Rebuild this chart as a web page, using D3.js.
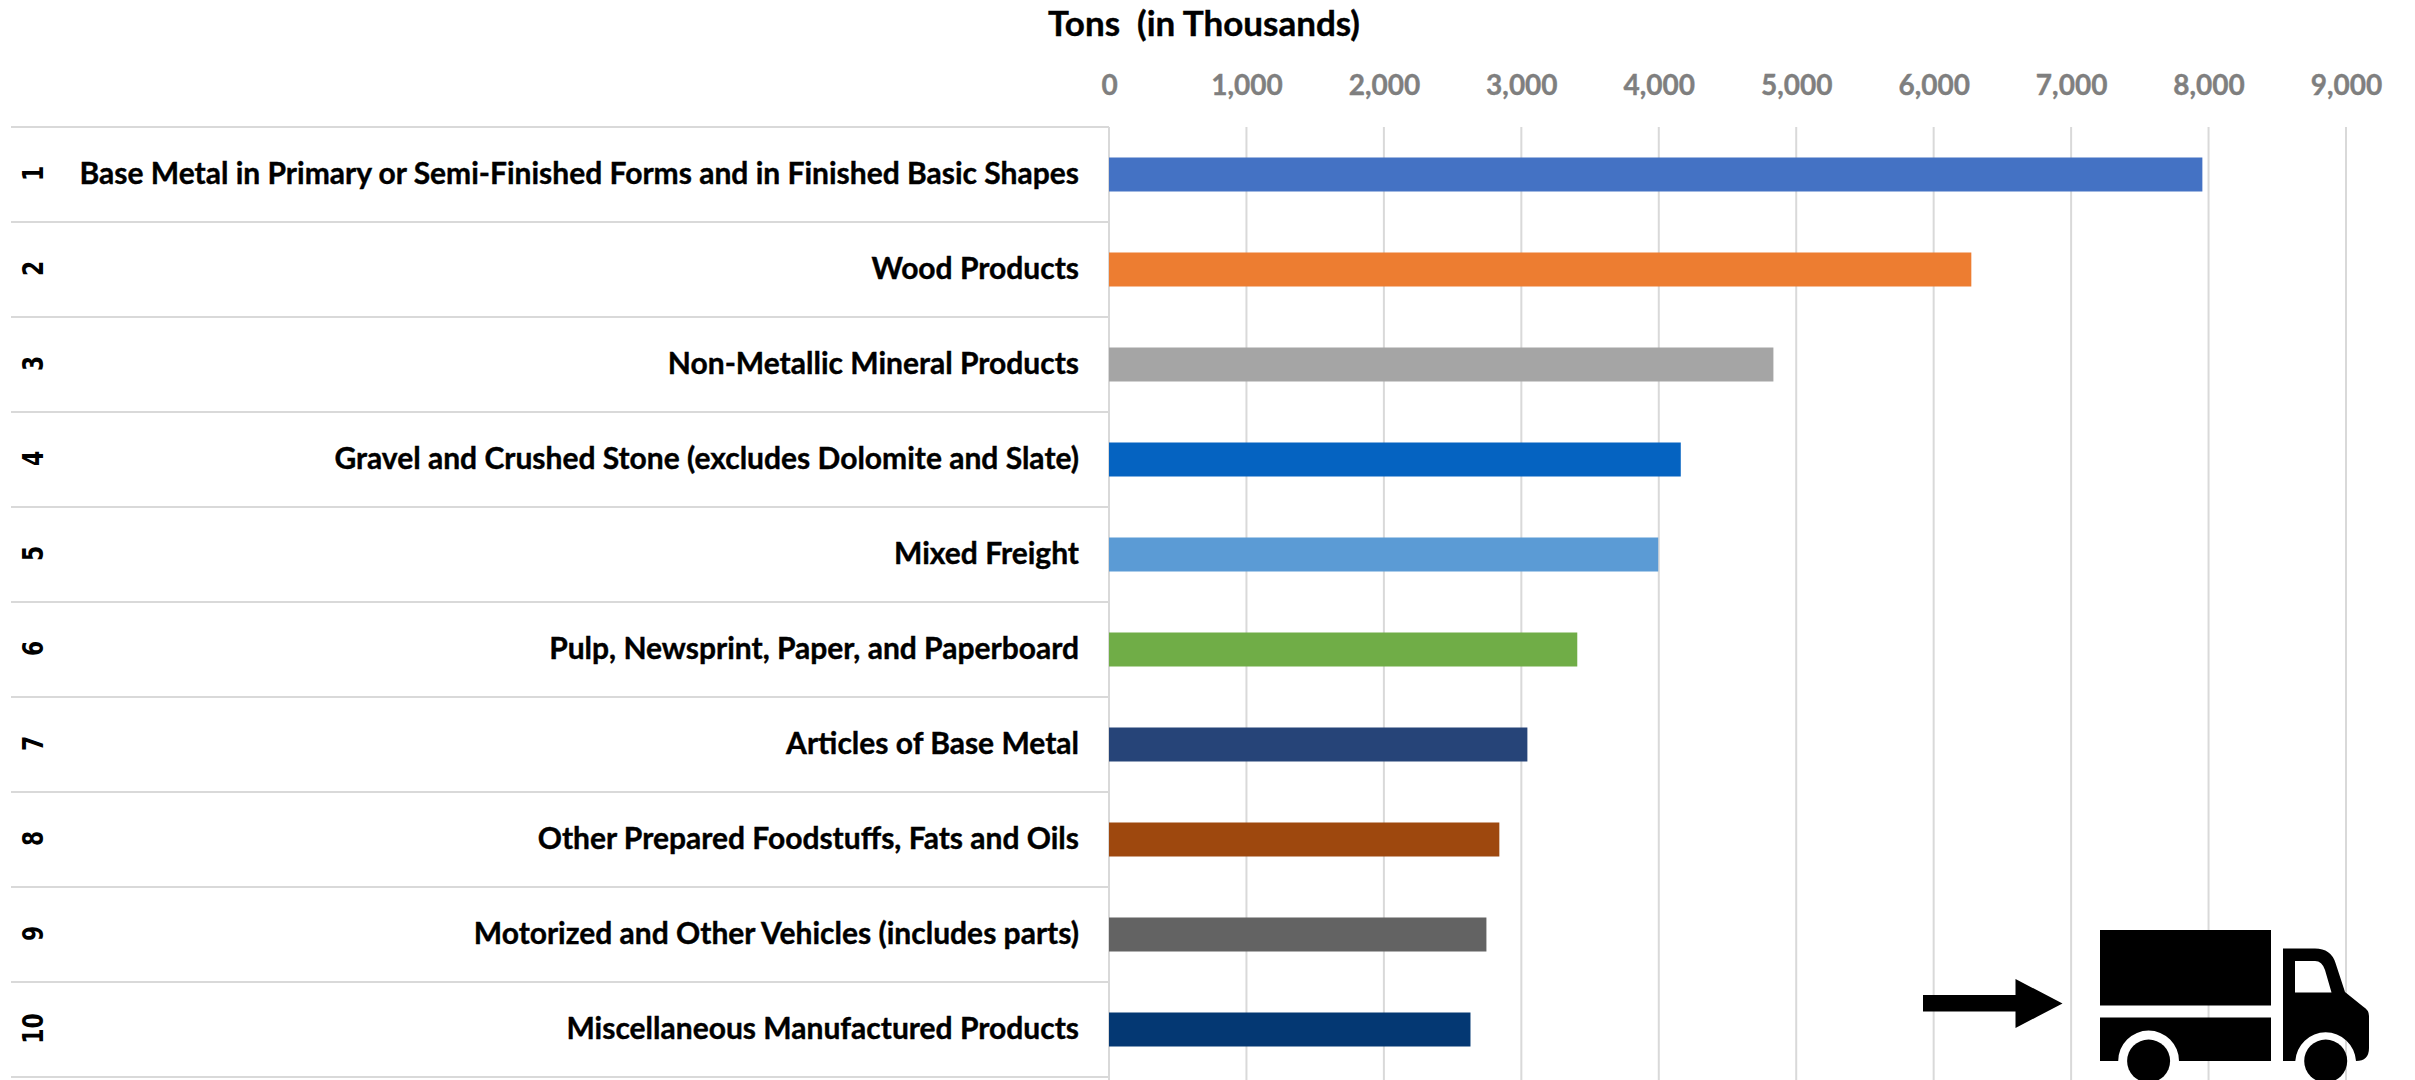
<!DOCTYPE html>
<html>
<head>
<meta charset="utf-8">
<script src="https://cdn.jsdelivr.net/npm/d3@7"></script>
<style>
	html, body { margin: 0; padding: 0; background: #fff; overflow: hidden; }
	svg { display: block; }
	text { font-family: Lato, "Open Sans", sans-serif; font-weight: 700; }
</style>
</head>
<body>
<svg class="chart-container" width="2415" height="1080"></svg>
<script>
const ranks = ['1', '2', '3', '4', '5', '6', '7', '8', '9', '10'];
const commodities = [
	'Base Metal in Primary or Semi-Finished Forms and in Finished Basic Shapes',
	'Wood Products',
	'Non-Metallic Mineral Products',
	'Gravel and Crushed Stone (excludes Dolomite and Slate)',
	'Mixed Freight',
	'Pulp, Newsprint, Paper, and Paperboard',
	'Articles of Base Metal',
	'Other Prepared Foodstuffs, Fats and Oils',
	'Motorized and Other Vehicles (includes parts)',
	'Miscellaneous Manufactured Products'
];
const tons = [7955, 6274, 4834, 4160, 3996, 3407, 3044, 2840, 2746, 2630];
const barColors = ['#4472c4', '#ed7d31', '#a5a5a5', '#0563c1', '#5b9bd5', '#70ad47', '#264478', '#9e480e', '#636363', '#043873'];
const xTicks = [0, 1000, 2000, 3000, 4000, 5000, 6000, 7000, 8000, 9000];

// plot box
const margin = { top: 127, right: 69, bottom: 3, left: 1109 };
const width = 2415, height = 1080;
const tableLeft = 11;
const grey = '#d9d9d9';

const x = d3.scaleLinear().domain([0, 9000]).range([margin.left, width - margin.right]);
const y = d3.scaleBand().domain(ranks).range([margin.top, height - margin.bottom]);
const barH = 34;

const svg = d3.select('.chart-container');

// tick labels on top
const xAxis = svg.append('g')
	.attr('class', 'x-axis')
	.attr('transform', 'translate(0,' + margin.top + ')')
	.call(d3.axisTop(x).tickValues(xTicks).tickFormat(d3.format(',')).tickSize(0).tickPadding(32));
xAxis.select('.domain').remove();
xAxis.selectAll('text')
	.attr('fill', '#7f7f7f')
	.attr('stroke', '#7f7f7f')
	.attr('stroke-width', 0.4)
	.style('font-size', '28px');

svg.append('g').attr('class', 'grid')
	.selectAll('line')
	.data(xTicks)
	.enter()
	.append('line')
	.attr('x1', d => x(d)).attr('x2', d => x(d))
	.attr('y1', margin.top).attr('y2', height)
	.attr('stroke', grey)
	.attr('stroke-width', 2);

// table rows on the left
svg.append('g').attr('class', 'rows')
	.selectAll('line')
	.data(ranks.concat('end'))
	.enter()
	.append('line')
	.attr('x1', tableLeft).attr('x2', margin.left)
	.attr('y1', d => d === 'end' ? y.range()[1] : y(d))
	.attr('y2', d => d === 'end' ? y.range()[1] : y(d))
	.attr('stroke', grey)
	.attr('stroke-width', 2);

// bars
svg.append('g').attr('class', 'bars')
	.selectAll('rect')
	.data(tons)
	.enter()
	.append('rect')
	.attr('x', x(0))
	.attr('y', (d, i) => y(ranks[i]) + y.bandwidth() / 2 - barH / 2)
	.attr('width', d => x(d) - x(0))
	.attr('height', barH)
	.attr('fill', (d, i) => barColors[i]);

// category labels
svg.append('g').attr('class', 'labels')
	.selectAll('text')
	.data(commodities)
	.enter()
	.append('text')
	.attr('x', margin.left - 30)
	.attr('y', (d, i) => y(ranks[i]) + y.bandwidth() / 2 - 1)
	.attr('dy', '0.35em')
	.attr('text-anchor', 'end')
	.attr('fill', '#000')
	.attr('stroke', '#000')
	.attr('stroke-width', 0.4)
	.style('font-size', '30px')
	.text(d => d);

// rank numbers, rotated
svg.append('g').attr('class', 'ranks')
	.selectAll('text')
	.data(ranks)
	.enter()
	.append('text')
	.attr('transform', d => 'translate(33,' + (y(d) + y.bandwidth() / 2 - 1) + ') rotate(-90) scale(0.78,1)')
	.attr('dy', '0.36em')
	.attr('text-anchor', 'middle')
	.attr('fill', '#000')
	.style('font-family', '"DejaVu Sans"')
	.style('font-size', '28px')
	.text(d => d);

// axis title
svg.append('text')
	.attr('x', 1204)
	.attr('y', 36)
	.attr('text-anchor', 'middle')
	.attr('fill', '#000')
	.attr('stroke', '#000')
	.attr('stroke-width', 0.4)
	.style('white-space', 'pre')
	.style('font-size', '35px')
	.text('Tons  (in Thousands)');

// arrow + truck icon
const icon = svg.append('g').attr('class', 'truck-icon').attr('fill', '#000').attr('transform', 'translate(0,-2)');
icon.append('path').attr('d', 'M1923,997H2015.5V981L2062.5,1005.5L2015.5,1030V1013.5H1923Z');
icon.append('path').attr('d', 'M2100,932H2271V1007.5H2100Z');
icon.append('path').attr('d', 'M2100,1019.5H2271V1063H2179A30.4,30.4 0 0 0 2118.2,1063H2100Z');
icon.append('path')
	.attr('fill-rule', 'evenodd')
	.attr('d', 'M2283,950.5H2315Q2331,950.5 2335.5,965L2345,994L2363,1008.5Q2369,1012 2369,1018V1050Q2369,1063 2356,1063A30.4,30.4 0 0 0 2295.3,1063H2283Z' +
		'M2295,963V994.5H2331.5L2325,972Q2322,963 2315,963Z');
icon.append('circle').attr('cx', 2148.6).attr('cy', 1063).attr('r', 21.5);
icon.append('circle').attr('cx', 2325.7).attr('cy', 1063).attr('r', 21.5);
</script>
</body>
</html>
